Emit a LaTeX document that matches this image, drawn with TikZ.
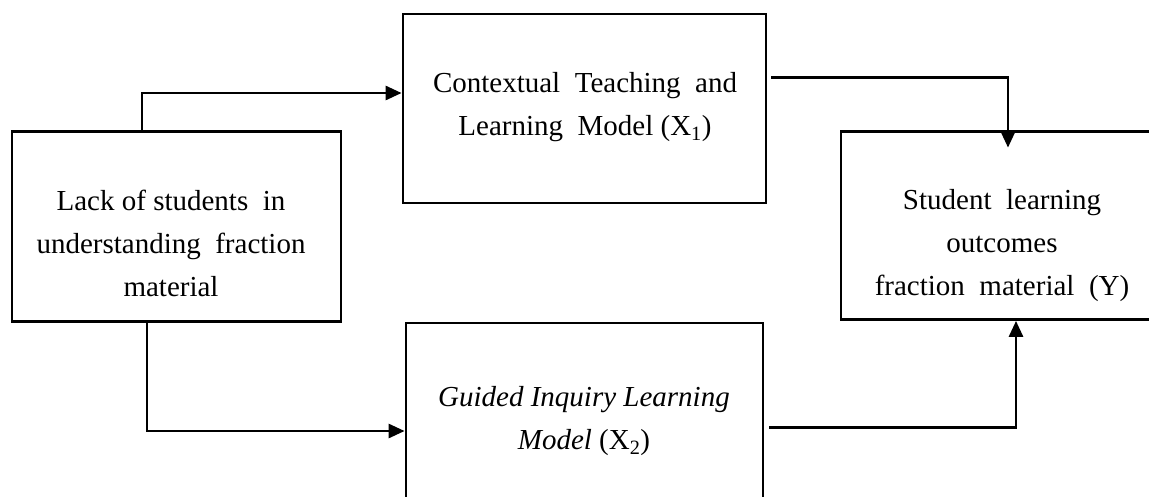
\documentclass[tikz,border=0pt]{standalone}
\usepackage{fontspec}
\setmainfont{Liberation Serif}
\usetikzlibrary{calc, positioning}
\usetikzlibrary{arrows.meta}

\tikzset{
  block/.style={draw, line width=2.8pt, rectangle, inner sep=0pt},
  blocktext/.style={align=center, font=\fontsize{29}{43}\selectfont},
  flow/.style={line width=2.8pt, -{Triangle[length=16pt,width=14pt]}},
}

\begin{document}
\begin{tikzpicture}[x=1pt, y=-1pt]
\useasboundingbox (0,0) rectangle (1149,496);
\clip (0,0) rectangle (1149,496);

% boxes
\node[block, minimum width=329pt, minimum height=190pt] (lack) at (176.5,226.5) {};
\node[block, minimum width=363pt, minimum height=189pt] (ctl) at (584.5,108.5) {};
\node[block, minimum width=357pt, minimum height=189pt] (gil) at (584.5,417.5) {};
\node[block, minimum width=322pt, minimum height=188pt] (out) at (1002,225.5) {};

% texts
\node[blocktext] (lacktext) at (171,243) {Lack of students\ \ in\\understanding\ \ fraction\\material};
\node[blocktext] (ctltext) at (585,107) {Contextual\ \ Teaching\ \ and\\Learning\ \ Model (X\textsubscript{1})};
\node[blocktext] (giltext) at (584,421) {\textit{Guided Inquiry Learning}\\\textit{Model} (X\textsubscript{2})};
\node[blocktext] (outtext) at (1002,246) {Student\ \ learning\\outcomes\\fraction\ \ material\ \ (Y)};

% arrows
\draw[flow] ([xshift=-34.5pt]lack.north) |- ([yshift=15.5pt]ctl.west);
\draw[flow] ([xshift=-29.5pt]lack.south) |- ([yshift=-13.5pt]gil.west);
\draw[flow] ([xshift=4pt,yshift=31pt]ctl.east) -| ([xshift=6pt,yshift=-17.5pt]out.north);
\draw[flow] ([xshift=5pt,yshift=-10pt]gil.east) -| ([xshift=14pt]out.south);
\end{tikzpicture}
\end{document}
